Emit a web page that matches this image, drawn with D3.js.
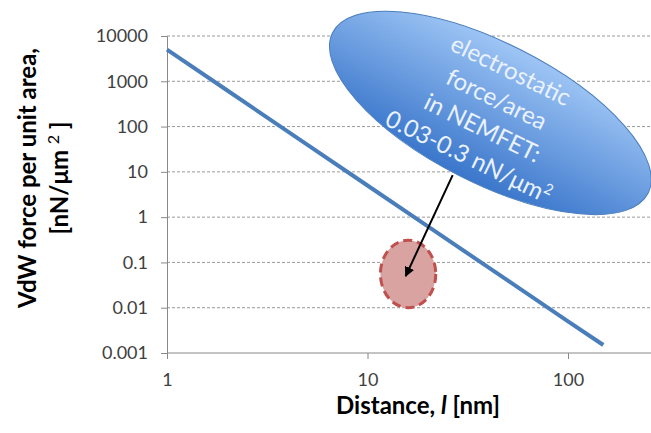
<!DOCTYPE html>
<html>
<head>
<meta charset="utf-8">
<script src="https://cdn.jsdelivr.net/npm/d3@7"></script>
<style>
  body { margin: 0; background: #fff; }
  #chart { position: relative; width: 651px; height: 433px; }
  svg { display: block; font-family: Lato, "Open Sans", sans-serif; }
  .callout-box {
    position: absolute;
    width: 300px;
    margin-left: -150px;
    text-align: center;
    font-family: Lato, "Open Sans", sans-serif;
    font-size: 24px;
    line-height: 32px;
    color: #eaf2fd;
    white-space: nowrap;
  }
  .callout-box sup { font-size: 15px; line-height: 0; }
</style>
</head>
<body>
<div id="chart"></div>
<script>
// data
var distance = [1, 2, 5, 10, 20, 50, 100, 150];
var vdwForce = [5000, 625, 40, 5, 0.625, 0.04, 0.005, 0.0015];
var xTicks = [1, 10, 100];
var yTicks = [0.001, 0.01, 0.1, 1, 10, 100, 1000, 10000];

// electrostatic region (red ellipse) and callout
var regionX = [11.6, 21.9];
var regionY = [0.01, 0.31];
var calloutCenter = [41, 200];
var calloutLines = ["electrostatic", "force/area", "in NEMFET:", "0.03-0.3 nN/μm"];
var arrowFrom = [26.6, 8.5];
var arrowTo = [15.5, 0.05];

var W = 651, H = 433;
var margin = { top: 36, left: 167, bottom: 80 };
var tilt = 26;

var svg = d3.select("#chart").append("svg")
    .attr("width", W)
    .attr("height", H);

var x = d3.scaleLog()
    .domain([1, 300])
    .range([margin.left, margin.left + 200.5 * Math.log10(300)]);

var y = d3.scaleLog()
    .domain([0.001, 10000])
    .range([353, margin.top]);

var defs = svg.append("defs");
var grad = defs.append("linearGradient")
    .attr("id", "blueGrad")
    .attr("x1", 0).attr("y1", 0).attr("x2", 0).attr("y2", 1);
grad.append("stop").attr("offset", "0%").attr("stop-color", "#9ec5f5");
grad.append("stop").attr("offset", "100%").attr("stop-color", "#3a76cb");

defs.append("marker")
    .attr("id", "arrowHead")
    .attr("viewBox", "0 0 10 10")
    .attr("refX", 9).attr("refY", 5)
    .attr("markerWidth", 5).attr("markerHeight", 5)
    .attr("orient", "auto")
    .append("path")
    .attr("d", "M0,0 L10,5 L0,10 z")
    .attr("fill", "#000");

// gridlines
svg.append("g")
    .selectAll("line")
    .data(yTicks.slice(1))
    .enter()
    .append("line")
    .attr("x1", x(1))
    .attr("x2", W)
    .attr("y1", function (d) { return y(d); })
    .attr("y2", function (d) { return y(d); })
    .attr("stroke", "#9a9a9a")
    .attr("stroke-dasharray", "3,2")
    .attr("stroke-width", 1);

// y axis
var yAxis = d3.axisLeft(y)
    .tickValues(yTicks)
    .tickFormat(function (d) { return d3.format("~f")(d); })
    .tickSize(6)
    .tickPadding(13);
var gy = svg.append("g")
    .attr("transform", "translate(" + x(1) + ",0)")
    .call(yAxis);
gy.select(".domain").attr("stroke", "#888");
gy.selectAll(".tick line").attr("stroke", "#888");
gy.selectAll(".tick text")
    .attr("font-size", 18)
    .attr("fill", "#404040")
    .attr("font-family", "Lato, sans-serif");

// x axis
var xAxis = d3.axisBottom(x)
    .tickValues(xTicks)
    .tickFormat(d3.format("d"))
    .tickSize(6)
    .tickPadding(14);
var gx = svg.append("g")
    .attr("transform", "translate(0," + y(0.001) + ")")
    .call(xAxis);
gx.select(".domain").attr("stroke", "#888").attr("d", "M" + x(1) + ",0H" + W);
gx.selectAll(".tick line").attr("stroke", "#888");
gx.selectAll(".tick text")
    .attr("font-size", 18)
    .attr("fill", "#404040")
    .attr("font-family", "Lato, sans-serif");

// vdW line
var line = d3.line()
    .x(function (d) { return x(d[0]); })
    .y(function (d) { return y(d[1]); });
svg.append("path")
    .datum(d3.zip(distance, vdwForce))
    .attr("d", line)
    .attr("fill", "none")
    .attr("stroke", "#4a7ebb")
    .attr("stroke-width", 4);

// red ellipse (electrostatic region)
svg.append("ellipse")
    .attr("cx", (x(regionX[0]) + x(regionX[1])) / 2)
    .attr("cy", (y(regionY[0]) + y(regionY[1])) / 2)
    .attr("rx", (x(regionX[1]) - x(regionX[0])) / 2)
    .attr("ry", (y(regionY[0]) - y(regionY[1])) / 2)
    .attr("fill", "#d9a3a2")
    .attr("stroke", "#c0504d")
    .attr("stroke-width", 3)
    .attr("stroke-dasharray", "9,5");

// arrow
svg.append("line")
    .attr("x1", x(arrowFrom[0])).attr("y1", y(arrowFrom[1]))
    .attr("x2", x(arrowTo[0])).attr("y2", y(arrowTo[1]))
    .attr("stroke", "#000")
    .attr("stroke-width", 2)
    .attr("marker-end", "url(#arrowHead)");

// callout ellipse
var cx = x(calloutCenter[0]), cy = y(calloutCenter[1]);
svg.append("ellipse")
    .attr("transform", "translate(" + cx + "," + cy + ") rotate(" + (tilt + 1) + ")")
    .attr("rx", 177)
    .attr("ry", 70)
    .attr("fill", "url(#blueGrad)")
    .attr("stroke", "#4a7ebb")
    .attr("stroke-width", 1);

// callout text as a rotated html block on top of the svg
var box = d3.select("#chart").append("div")
    .attr("class", "callout-box")
    .style("left", cx + "px")
    .style("top", (cy - 64) + "px")
    .style("transform", "rotate(" + tilt + "deg)")
    .style("transform-origin", "150px 64px");
box.selectAll("div")
    .data(calloutLines)
    .enter()
    .append("div")
    .text(function (d) { return d; });
box.select("div:last-child").append("sup").text("2");

// axis labels
var yl = svg.append("text")
    .attr("transform", "translate(36,178) rotate(-90)")
    .attr("text-anchor", "middle")
    .attr("font-size", 24)
    .attr("font-weight", "bold");
yl.append("tspan").attr("x", 0).attr("y", 0).text("VdW force per unit  area,");
yl.append("tspan").attr("x", 0).attr("y", 32).text("[nN/μm ")
  .append("tspan").attr("dy", -9).attr("font-size", 16).attr("font-weight", "normal").text("2");
yl.append("tspan").attr("dy", 9).text(" ]");

var xl = svg.append("text")
    .attr("x", 418)
    .attr("y", 414)
    .attr("text-anchor", "middle")
    .attr("font-size", 24)
    .attr("font-weight", "bold");
xl.append("tspan").text("Distance, ");
xl.append("tspan").attr("font-style", "italic").text("l");
xl.append("tspan").text(" [nm]");
</script>
</body>
</html>
